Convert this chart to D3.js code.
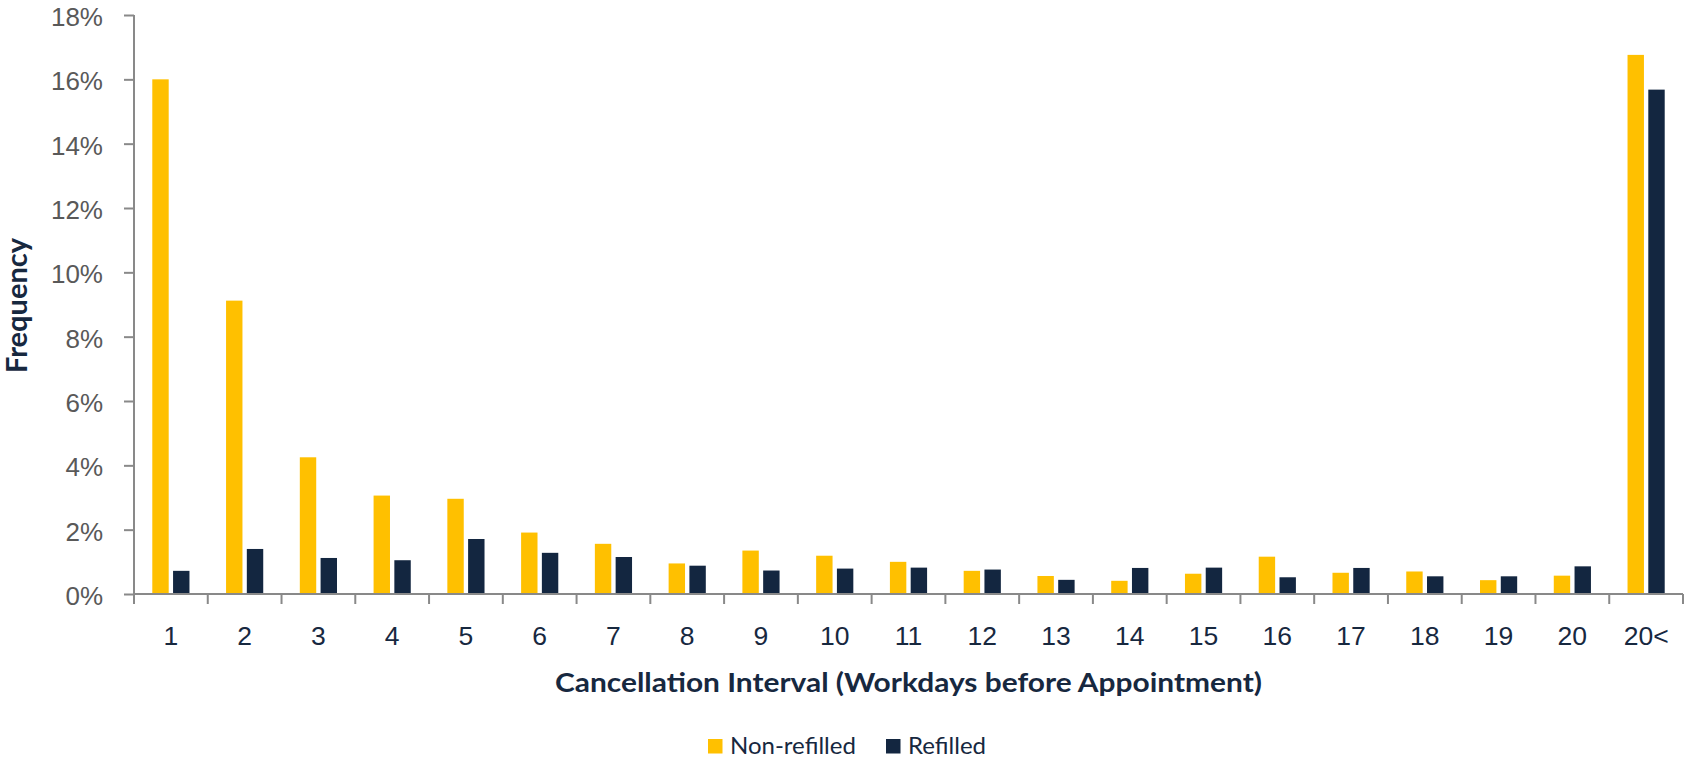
<!DOCTYPE html>
<html>
<head>
<meta charset="utf-8">
<script src="https://cdn.jsdelivr.net/npm/d3@7"></script>
<style>
  html, body { margin: 0; padding: 0; background: #fff; }
  svg { display: block; font-family: Lato, "Open Sans", sans-serif; }
</style>
</head>
<body>
<div id="chart"></div>
<script>
// Cancellation interval in workdays before appointment
const categories = ["1", "2", "3", "4", "5", "6", "7", "8", "9", "10",
  "11", "12", "13", "14", "15", "16", "17", "18", "19", "20", "20<"];
// Frequency in percent
const nonRefilled = [16.0, 9.12, 4.25, 3.06, 2.96, 1.91, 1.56, 0.95, 1.35, 1.19,
  1.0, 0.72, 0.56, 0.41, 0.63, 1.16, 0.66, 0.70, 0.43, 0.57, 16.76];
const refilled = [0.72, 1.40, 1.12, 1.05, 1.71, 1.28, 1.15, 0.88, 0.73, 0.79,
  0.82, 0.76, 0.44, 0.81, 0.82, 0.52, 0.81, 0.55, 0.55, 0.86, 15.68];
const seriesNames = ["Non-refilled", "Refilled"];
const yTicks = [0, 2, 4, 6, 8, 10, 12, 14, 16, 18];

const width = 1684;
const height = 759;
const margin = { top: 15, right: 1, bottom: 165, left: 134 };
const colors = { "Non-refilled": "#FFC000", "Refilled": "#132640" };
const axisColor = "#898989";
const navy = "#17283f";

const data = categories.map((c, i) => ({
  cat: c,
  values: [
    { key: "Non-refilled", value: nonRefilled[i] },
    { key: "Refilled", value: refilled[i] },
  ],
}));

const svg = d3.select("#chart")
  .append("svg")
  .attr("width", width)
  .attr("height", height)
  .attr("viewBox", [0, 0, width, height]);

const plotBottom = height - margin.bottom;

const x = d3.scaleBand()
  .domain(categories)
  .range([margin.left, width - margin.right]);

const x1 = d3.scaleBand()
  .domain(seriesNames)
  .range([x.bandwidth() * 0.248, x.bandwidth() * 0.752])
  .paddingInner(0.21);

const y = d3.scaleLinear()
  .domain([0, 18])
  .range([plotBottom, margin.top]);

// Bars
svg.append("g")
  .selectAll("g")
  .data(data)
  .join("g")
  .attr("transform", (d) => `translate(${x(d.cat)},0)`)
  .selectAll("rect")
  .data((d) => d.values)
  .join("rect")
  .attr("x", (d) => x1(d.key))
  .attr("y", (d) => y(d.value))
  .attr("width", x1.bandwidth())
  .attr("height", (d) => y(0) - y(d.value))
  .attr("fill", (d) => colors[d.key]);

// Y axis
const yAxis = d3.axisLeft(y)
  .tickValues(yTicks)
  .tickFormat((d) => `${d}%`)
  .tickSize(10)
  .tickSizeOuter(0)
  .tickPadding(21);

const yG = svg.append("g")
  .attr("transform", `translate(${margin.left},0)`)
  .call(yAxis);
yG.select(".domain").remove();
yG.selectAll(".tick line").attr("stroke", axisColor).attr("stroke-width", 2);
yG.selectAll(".tick text")
  .attr("fill", "#595959")
  .style("font-size", "26px")
  .attr("dy", "0.4em");

svg.append("line")
  .attr("x1", margin.left)
  .attr("x2", margin.left)
  .attr("y1", y(18))
  .attr("y2", plotBottom + 10)
  .attr("stroke", axisColor)
  .attr("stroke-width", 2);

// X axis: labels at centers, ticks at band boundaries
const xAxis = d3.axisBottom(x).tickSize(0).tickPadding(0);
const xG = svg.append("g")
  .attr("transform", `translate(0,${plotBottom})`)
  .call(xAxis);
xG.select(".domain").remove();
xG.selectAll(".tick text")
  .attr("y", 51)
  .attr("dy", 0)
  .attr("fill", navy)
  .style("font-size", "26.5px");

svg.append("line")
  .attr("x1", margin.left)
  .attr("x2", x.range()[1])
  .attr("y1", y(0))
  .attr("y2", y(0))
  .attr("stroke", axisColor)
  .attr("stroke-width", 2);

svg.append("g")
  .selectAll("line")
  .data(categories.map((c) => x(c)).concat([x.range()[1]]))
  .join("line")
  .attr("x1", (d) => d)
  .attr("x2", (d) => d)
  .attr("y1", y(0))
  .attr("y2", y(0) + 10)
  .attr("stroke", axisColor)
  .attr("stroke-width", 2);

// Axis titles
svg.append("text")
  .attr("x", (x.range()[0] + x.range()[1]) / 2)
  .attr("y", 692)
  .attr("text-anchor", "middle")
  .attr("fill", navy)
  .style("font-size", "27px")
  .style("font-weight", 700)
  .attr("textLength", 707)
  .attr("lengthAdjust", "spacingAndGlyphs")
  .text("Cancellation Interval (Workdays before Appointment)");

svg.append("text")
  .attr("transform", `translate(27,${(y(0) + y(18)) / 2 + 1}) rotate(-90)`)
  .attr("text-anchor", "middle")
  .attr("fill", navy)
  .style("font-size", "28px")
  .style("font-weight", 700)
  .attr("textLength", 135)
  .attr("lengthAdjust", "spacingAndGlyphs")
  .text("Frequency");

// Legend
const legendItems = [
  { key: "Non-refilled", x: 708 },
  { key: "Refilled", x: 886 },
];
const legend = svg.append("g")
  .selectAll("g")
  .data(legendItems)
  .join("g")
  .attr("transform", (d) => `translate(${d.x},739)`);
legend.append("rect")
  .attr("width", 14.5)
  .attr("height", 14.5)
  .attr("fill", (d) => colors[d.key]);
legend.append("text")
  .attr("x", 22)
  .attr("y", 14.5)
  .attr("fill", navy)
  .style("font-size", "24px")
  .text((d) => d.key);
</script>
</body>
</html>
